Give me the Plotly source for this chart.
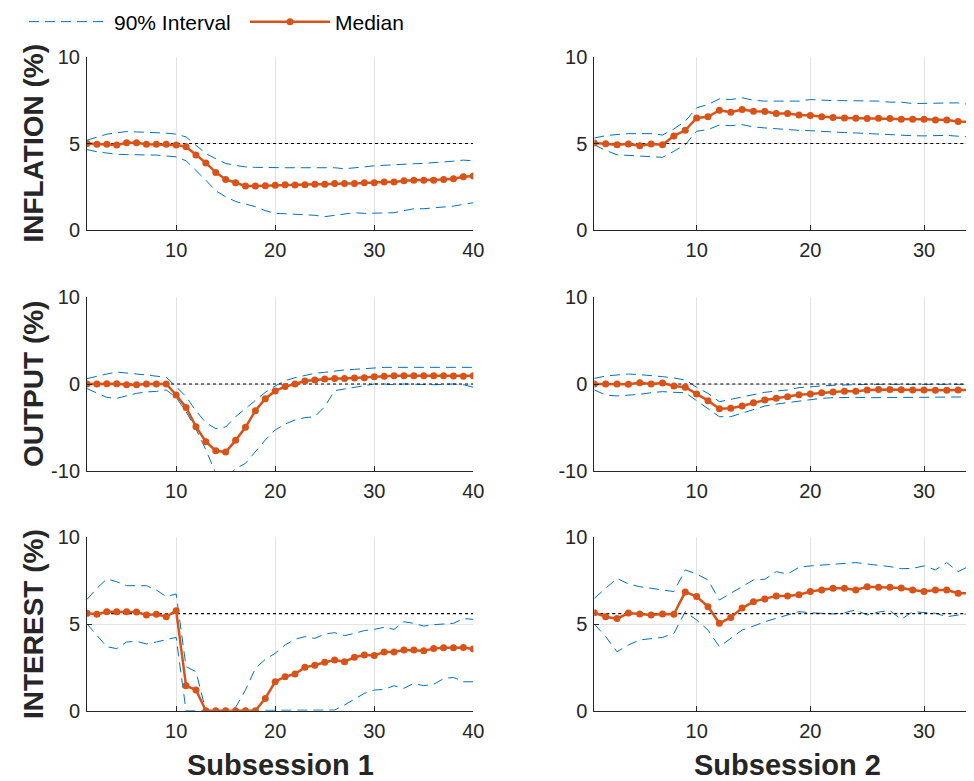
#!/usr/bin/env python3
"""Impulse responses by subsession: median and 90% interval."""

import plotly.graph_objects as go

# periods
periods_s1 = list(range(1, 41))
periods_s2 = list(range(1, 36))

# steady-state reference levels (dotted lines)
ss_inflation = 5.0
ss_output = 0.0
ss_interest = 5.6

# ---- Subsession 1 ----
infl_s1_med = [5.0, 4.96, 4.96, 4.92, 5.04, 5.04, 4.96, 4.96, 4.96, 4.92,
               4.81, 4.33, 3.88, 3.33, 2.92, 2.73, 2.54, 2.54, 2.56, 2.58,
               2.62, 2.6, 2.62, 2.65, 2.65, 2.69, 2.69, 2.69, 2.73, 2.73,
               2.77, 2.77, 2.85, 2.88, 2.88, 2.88, 2.92, 2.96, 3.08, 3.12]
infl_s1_hi = [5.19, 5.38, 5.54, 5.62, 5.69, 5.67, 5.66, 5.65, 5.6, 5.54,
              5.38, 4.9, 4.42, 4.12, 3.85, 3.73, 3.65, 3.62, 3.6, 3.6,
              3.6, 3.6, 3.6, 3.6, 3.6, 3.6, 3.54, 3.58, 3.65, 3.71,
              3.75, 3.78, 3.81, 3.83, 3.85, 3.88, 3.92, 3.98, 4.04, 4.0]
infl_s1_lo = [4.65, 4.52, 4.45, 4.38, 4.36, 4.36, 4.35, 4.33, 4.28, 4.23,
              4.0, 3.46, 2.88, 2.27, 1.92, 1.65, 1.5, 1.35, 1.12, 0.96,
              0.94, 0.92, 0.87, 0.85, 0.77, 0.85, 0.92, 1.0, 0.96, 0.96,
              0.96, 1.0, 1.12, 1.23, 1.23, 1.27, 1.31, 1.38, 1.48, 1.58]

out_s1_med = [0.0, 0.0, 0.04, 0.04, -0.08, -0.1, 0.0, 0.0, 0.0, -1.27,
              -2.7, -4.92, -6.65, -7.7, -7.85, -6.5, -5.0, -3.08, -1.7, -0.8,
              -0.3, 0.0, 0.35, 0.46, 0.58, 0.62, 0.62, 0.69, 0.73, 0.85,
              0.88, 0.96, 0.96, 0.96, 0.96, 0.96, 0.96, 0.92, 0.88, 0.96]
out_s1_hi = [0.62, 0.92, 1.15, 1.38, 1.23, 1.15, 1.04, 0.9, 0.77, -0.3,
             -1.46, -3.1, -4.46, -5.15, -4.96, -3.77, -2.8, -1.92, -0.96, -0.23,
             0.38, 0.73, 0.96, 1.23, 1.35, 1.5, 1.62, 1.69, 1.77, 1.85,
             1.92, 1.92, 1.92, 1.88, 1.88, 1.88, 1.88, 1.92, 1.92, 1.92]
out_s1_lo = [-0.54, -1.08, -1.54, -1.65, -1.35, -1.08, -0.92, -0.85, -0.69, -1.54,
             -3.2, -5.2, -7.6, -10.3, -10.7, -9.77, -9.15, -7.8, -6.46, -5.3,
             -4.62, -4.15, -3.88, -3.77, -2.62, -0.77, -0.58, -0.38, -0.15, 0.0,
             0.0, -0.08, 0.0, -0.04, -0.08, -0.08, -0.04, 0.0, -0.08, -0.38]

int_s1_med = [5.62, 5.56, 5.71, 5.71, 5.71, 5.69, 5.52, 5.56, 5.42, 5.77,
              1.44, 1.19, 0.0, 0.0, 0.0, 0.0, 0.0, 0.0, 0.71, 1.67,
              1.96, 2.12, 2.5, 2.62, 2.79, 2.92, 2.83, 3.08, 3.21, 3.19,
              3.38, 3.38, 3.5, 3.5, 3.46, 3.58, 3.63, 3.63, 3.65, 3.56]
int_s1_hi = [6.42, 7.06, 7.6, 7.44, 7.21, 7.21, 7.21, 6.96, 6.58, 6.73,
             2.54, 2.25, 0.0, 0.0, 0.0, 0.19, 1.19, 2.44, 2.96, 3.31,
             3.79, 4.12, 4.27, 4.17, 4.42, 4.5, 4.33, 4.46, 4.62, 4.69,
             4.81, 4.69, 5.13, 5.04, 4.88, 4.96, 5.0, 5.04, 5.31, 5.27]
int_s1_lo = [5.0, 4.37, 3.69, 3.58, 3.96, 4.0, 3.85, 3.96, 4.08, 4.23,
             0.0, 0.0, 0.0, 0.0, 0.0, 0.0, 0.0, 0.0, 0.0, 0.0,
             0.0, 0.0, 0.0, 0.0, 0.0, 0.04, 0.33, 0.67, 1.0, 1.19,
             1.23, 1.44, 1.29, 1.58, 1.44, 1.52, 1.85, 1.92, 1.67, 1.67]

# ---- Subsession 2 ----
infl_s2_med = [5.03, 4.99, 4.93, 4.97, 4.87, 4.97, 4.93, 5.44, 5.76, 6.48,
               6.54, 6.92, 6.81, 6.96, 6.87, 6.85, 6.73, 6.73, 6.65, 6.62,
               6.54, 6.5, 6.48, 6.46, 6.44, 6.46, 6.44, 6.4, 6.4, 6.4,
               6.36, 6.36, 6.27, 6.25, 6.23]
infl_s2_hi = [5.32, 5.45, 5.52, 5.57, 5.57, 5.57, 5.49, 5.84, 6.29, 7.06,
              7.25, 7.58, 7.54, 7.64, 7.5, 7.45, 7.45, 7.45, 7.45, 7.54,
              7.5, 7.48, 7.48, 7.48, 7.48, 7.45, 7.39, 7.39, 7.31, 7.31,
              7.31, 7.35, 7.35, 7.25, 7.25]
infl_s2_lo = [4.93, 4.6, 4.35, 4.31, 4.29, 4.26, 4.2, 4.55, 4.93, 5.71,
              5.8, 6.07, 6.03, 6.09, 5.96, 5.9, 5.84, 5.8, 5.76, 5.74,
              5.69, 5.67, 5.63, 5.61, 5.57, 5.53, 5.49, 5.47, 5.45, 5.44,
              5.44, 5.47, 5.42, 5.38, 5.4]

out_s2_med = [0.0, 0.0, 0.0, -0.04, 0.15, 0.0, 0.12, -0.23, -0.38, -1.15,
              -1.92, -2.85, -2.8, -2.54, -2.15, -1.85, -1.65, -1.46, -1.23, -1.15,
              -1.0, -0.92, -0.85, -0.85, -0.69, -0.62, -0.62, -0.65, -0.69, -0.69,
              -0.73, -0.73, -0.69, -0.65, -0.69]
out_s2_hi = [0.65, 0.92, 1.04, 1.15, 1.08, 1.0, 0.85, 0.69, 0.46, -0.38,
             -1.08, -2.04, -1.77, -1.46, -1.19, -0.96, -0.81, -0.69, -0.42, -0.3,
             -0.23, -0.15, -0.15, -0.08, -0.04, -0.04, -0.04, -0.04, -0.04, -0.04,
             -0.04, -0.04, -0.04, -0.04, 0.27]
out_s2_lo = [-0.69, -1.27, -1.38, -1.31, -1.19, -1.0, -0.88, -0.96, -1.0, -1.92,
             -2.8, -3.77, -3.77, -3.38, -2.92, -2.54, -2.31, -2.15, -2.0, -1.77,
             -1.65, -1.58, -1.54, -1.54, -1.58, -1.58, -1.54, -1.5, -1.5, -1.54,
             -1.54, -1.58, -1.5, -1.46, -1.46]

int_s2_med = [5.65, 5.42, 5.31, 5.63, 5.58, 5.52, 5.58, 5.56, 6.85, 6.58,
              6.0, 5.04, 5.38, 5.92, 6.29, 6.44, 6.62, 6.62, 6.69, 6.87,
              6.96, 7.06, 7.06, 6.96, 7.15, 7.12, 7.12, 7.08, 6.96, 6.87,
              6.96, 6.96, 6.77, 6.77, 6.77]
int_s2_hi = [6.48, 7.06, 7.63, 7.31, 7.15, 7.06, 6.96, 6.87, 8.12, 7.88,
             7.54, 6.38, 6.77, 7.15, 7.54, 7.58, 8.02, 7.88, 8.27, 8.35,
             8.4, 8.46, 8.5, 8.54, 8.46, 8.4, 8.31, 8.19, 8.21, 8.35,
             8.12, 8.54, 8.02, 8.35, 8.5]
int_s2_lo = [5.0, 4.27, 3.4, 3.79, 4.08, 4.17, 4.23, 4.46, 5.71, 5.23,
             4.65, 3.69, 4.17, 4.65, 4.88, 5.13, 5.33, 5.52, 5.71, 5.65,
             5.62, 5.58, 5.65, 5.81, 5.52, 5.69, 5.77, 5.27, 5.71, 5.65,
             5.62, 5.42, 5.52, 5.65, 5.71]

row_titles = ['INFLATION (%)', 'OUTPUT (%)', 'INTEREST (%)']
col_titles = ['Subsession 1', 'Subsession 2']
x_ticks = [10, 20, 30, 40]
y_ticks = [[0, 5, 10], [-10, 0, 10], [0, 5, 10]]
y_ticktext = [['0', '5', '10'], ['-10', '0', '10'], ['0', '5', '10']]

BLUE = '#0072BD'
ORANGE = '#D95319'
TXT = '#262626'
GRID = '#e3e3e3'
FONT = 'Liberation Sans, Arial, Helvetica, sans-serif'

# the page body has an 8px margin, so work in page pixels and shift back
PAGE_W, PAGE_H = 974, 781
OFF = 8
W, H = PAGE_W - OFF, PAGE_H - OFF


def px_x(p):
    return (p - OFF) / W


def px_y(p):
    return 1 - (p - OFF) / H


panels = [
    # (row, col, x, med, lo, hi, ss)
    (0, 0, periods_s1, infl_s1_med, infl_s1_lo, infl_s1_hi, ss_inflation),
    (1, 0, periods_s1, out_s1_med, out_s1_lo, out_s1_hi, ss_output),
    (2, 0, periods_s1, int_s1_med, int_s1_lo, int_s1_hi, ss_interest),
    (0, 1, periods_s2, infl_s2_med, infl_s2_lo, infl_s2_hi, ss_inflation),
    (1, 1, periods_s2, out_s2_med, out_s2_lo, out_s2_hi, ss_output),
    (2, 1, periods_s2, int_s2_med, int_s2_lo, int_s2_hi, ss_interest),
]

# page-pixel geometry of the panels (right column runs off the page edge)
col_px = [(87, 473.3), (594.3, PAGE_W)]
row_px = [(57, 230), (297.3, 470.7), (537.3, 710.7)]
y_ranges = [[0, 10], [-10, 10], [0, 10]]
x_ranges = [[1, 40], [1, 1 + (PAGE_W - 594.3) / 11.37]]

fig = go.Figure()
layout = {}

for i, (r, c, x, med, lo, hi, ss) in enumerate(panels):
    n = i + 1
    xa = 'x' if n == 1 else f'x{n}'
    ya = 'y' if n == 1 else f'y{n}'
    first = (n == 1)

    fig.add_trace(go.Scatter(x=x, y=hi, xaxis=xa, yaxis=ya, mode='lines',
                             line=dict(color=BLUE, width=1, dash='10px,6px'),
                             name='90% Interval', legendgroup='ci', showlegend=first))
    fig.add_trace(go.Scatter(x=x, y=lo, xaxis=xa, yaxis=ya, mode='lines',
                             line=dict(color=BLUE, width=1, dash='10px,6px'),
                             name='90% Interval', legendgroup='ci', showlegend=False))
    fig.add_trace(go.Scatter(x=x, y=[ss] * len(x), xaxis=xa, yaxis=ya, mode='lines',
                             line=dict(color='black', width=1.2, dash='dot'),
                             showlegend=False, hoverinfo='skip'))
    fig.add_trace(go.Scatter(x=x, y=med, xaxis=xa, yaxis=ya, mode='lines+markers',
                             line=dict(color=ORANGE, width=2.5),
                             marker=dict(color=ORANGE, size=7),
                             name='Median', showlegend=first))

    x0, x1 = col_px[c]
    y0, y1 = row_px[r]
    key = '' if n == 1 else str(n)
    layout['xaxis' + key] = dict(
        domain=[px_x(x0), min(1.0, px_x(x1))], anchor=ya, range=x_ranges[c],
        tickvals=x_ticks, showgrid=True, gridcolor=GRID, gridwidth=1,
        showline=True, linecolor=TXT, linewidth=1, zeroline=False,
        ticks='inside', ticklen=5, tickcolor=TXT, ticklabelstandoff=2,
        tickfont=dict(size=20, color=TXT, family=FONT))
    layout['yaxis' + key] = dict(
        domain=[px_y(y1), px_y(y0)], anchor=xa, range=y_ranges[r],
        tickvals=y_ticks[r], ticktext=y_ticktext[r],
        showgrid=True, gridcolor=GRID, gridwidth=1,
        showline=True, linecolor=TXT, linewidth=1, zeroline=False,
        ticks='inside', ticklen=5, tickcolor=TXT, ticklabelstandoff=2,
        tickfont=dict(size=20, color=TXT, family=FONT))

annotations = []
for r, title in enumerate(row_titles):
    y0, y1 = row_px[r]
    annotations.append(dict(
        text=f'<b>{title}</b>', xref='paper', yref='paper',
        x=px_x(33), y=px_y((y0 + y1) / 2), textangle=-90, showarrow=False,
        xanchor='center', yanchor='middle',
        font=dict(size=28, color=TXT, family=FONT)))
for c, title in enumerate(col_titles):
    x0 = col_px[c][0]
    annotations.append(dict(
        text=f'<b>{title}</b>', xref='paper', yref='paper',
        x=px_x(x0 + 193), y=px_y(765), showarrow=False,
        xanchor='center', yanchor='middle',
        font=dict(size=29, color=TXT, family=FONT)))

fig.update_layout(
    **layout,
    annotations=annotations,
    width=W, height=H,
    margin=dict(l=0, r=0, t=0, b=0, autoexpand=False),
    plot_bgcolor='white', paper_bgcolor='white',
    font=dict(family=FONT, color=TXT),
    legend=dict(orientation='h', x=px_x(24), y=px_y(22),
                xanchor='left', yanchor='middle',
                font=dict(size=21, color='black', family=FONT),
                bgcolor='rgba(0,0,0,0)', itemwidth=80, entrywidth=126),
)

fig.write_html('out.html')
